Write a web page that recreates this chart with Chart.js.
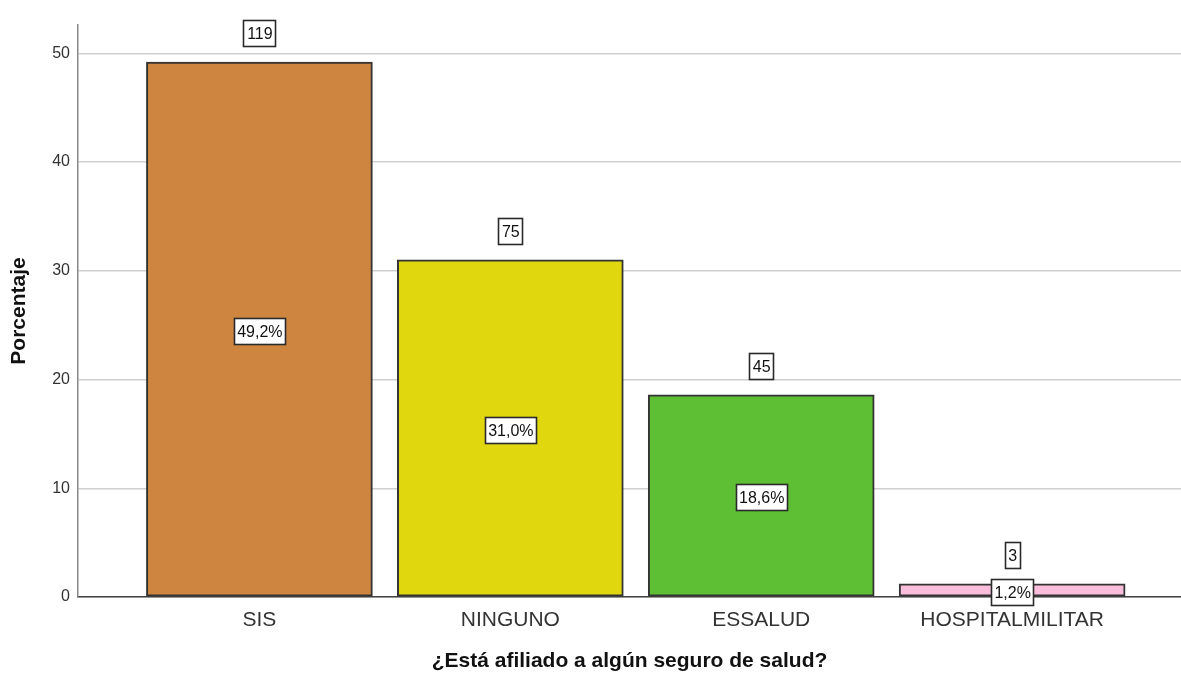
<!DOCTYPE html>
<html>
<head>
<meta charset="utf-8">
<script src="https://cdn.jsdelivr.net/npm/chart.js@4.4.1/dist/chart.umd.min.js"></script>
<style>
  body{margin:0;background:#fff;}
  #wrap{width:1181px;height:678px;}
</style>
</head>
<body>
<div id="wrap"><canvas id="chart" width="1181" height="678"></canvas></div>
<script>
// data
var categories = ['SIS', 'NINGUNO', 'ESSALUD', 'HOSPITALMILITAR'];
var percentages = [49.2, 31.0, 18.6, 1.2];
var counts = [119, 75, 45, 3];
var barColors = ['#CD853F', '#E1D70F', '#5EBE34', '#FABEDC'];
var yTicks = [0, 10, 20, 30, 40, 50];

var font = "'Liberation Sans', Arial, sans-serif";

function boxLabel(ctx, text, cx, cy) {
  ctx.font = '16px ' + font;
  var w = Math.round(ctx.measureText(text).width + 6);
  var h = 26;
  var x0 = Math.round(cx - w / 2), y0 = Math.round(cy - h / 2);
  ctx.fillStyle = '#fff';
  ctx.fillRect(x0, y0, w, h);
  ctx.lineWidth = 1.6;
  ctx.strokeStyle = '#2a2a2a';
  ctx.strokeRect(x0 + 0.5, y0 + 0.5, w, h);
  ctx.fillStyle = '#111';
  ctx.textAlign = 'center';
  ctx.textBaseline = 'middle';
  ctx.fillText(text, cx + 0.5, cy + 1.5);
}

var labelPlugin = {
  id: 'boxLabels',
  afterDatasetsDraw: function(chart) {
    var ctx = chart.ctx;
    var meta = chart.getDatasetMeta(0);
    ctx.save();
    meta.data.forEach(function(bar, i) {
      boxLabel(ctx, String(counts[i]), bar.x, bar.y - 29);
      var pct = percentages[i].toFixed(1).replace('.', ',') + '%';
      boxLabel(ctx, pct, bar.x, (bar.y + bar.base) / 2 + 2);
    });
    ctx.restore();
  }
};

var ctx = document.getElementById('chart').getContext('2d');
var myChart = new Chart(ctx, {
  type: 'bar',
  data: {
    datasets: [{
      data: categories.map(function(c, i) { return {x: i, y: percentages[i]}; }),
      backgroundColor: barColors,
      borderColor: '#333',
      borderWidth: 2,
      borderSkipped: false,
      barThickness: 226
    }]
  },
  options: {
    responsive: false,
    animation: false,
    layout: {padding: {top: 25, right: 0, left: 0, bottom: 0}},
    plugins: {
      legend: {display: false},
      tooltip: {enabled: false}
    },
    scales: {
      x: {
        type: 'linear',
        offset: false,
        min: -0.723,
        max: 3.673,
        afterBuildTicks: function(scale) {
          scale.ticks = categories.map(function(c, i) { return {value: i}; });
        },
        afterFit: function(scale) { scale.height = 81; },
        grid: {display: false, drawTicks: false, offset: false},
        border: {display: true, color: '#444', width: 1.5},
        ticks: {
          padding: 11,
          autoSkip: false,
          maxRotation: 0,
          color: '#333',
          font: {family: font, size: 21},
          callback: function(v) { return categories[v]; }
        },
        title: {
          display: true,
          text: '¿Está afiliado a algún seguro de salud?',
          color: '#111',
          font: {family: font, size: 21, weight: 'bold'},
          padding: {top: 0, bottom: 4}
        }
      },
      y: {
        min: 0,
        max: 52.6,
        afterBuildTicks: function(scale) {
          scale.ticks = yTicks.map(function(v) { return {value: v}; });
        },
        afterFit: function(scale) { scale.width = 78; },
        grid: {color: '#cfcfcf', lineWidth: 1.5, drawTicks: false},
        border: {display: true, color: '#888', width: 1.5},
        ticks: {
          padding: 8,
          color: '#333',
          font: {family: font, size: 16}
        },
        title: {
          display: true,
          text: 'Porcentaje',
          color: '#111',
          font: {family: font, size: 21, weight: 'bold'},
          padding: {top: 7, bottom: 0}
        }
      }
    }
  },
  plugins: [labelPlugin]
});
</script>
</body>
</html>
